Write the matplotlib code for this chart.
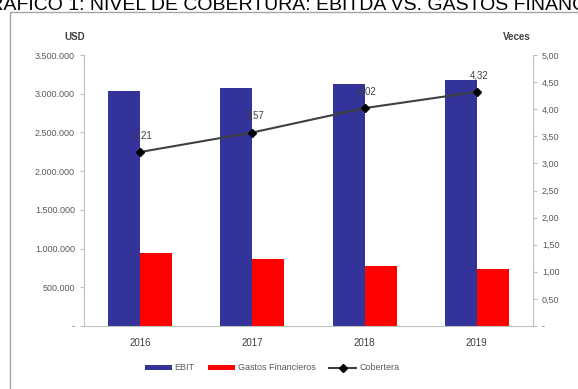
import matplotlib.pyplot as plt
import numpy as np
from matplotlib.ticker import FuncFormatter, MultipleLocator
from matplotlib.patches import Rectangle

plt.rcParams['font.family'] = ['Liberation Sans', 'DejaVu Sans']

years = ['2016', '2017', '2018', '2019']
ebit = [3030000, 3070000, 3130000, 3180000]
gastos = [945000, 860000, 778000, 735000]
cobertura = [3.21, 3.57, 4.02, 4.32]
cobertura_labels = ['3,21', '3,57', '4,02', '4,32']

blue = '#333399'
red = '#FF0000'
axis_gray = '#BFBFBF'
text_gray = '#595959'

fig = plt.figure(figsize=(5.78, 3.89), dpi=100)

# outer chart border
fig.patches.append(Rectangle((10 / 578, -0.05), 1.0, 1 - 12 / 389 + 0.05,
                             transform=fig.transFigure, fill=False,
                             edgecolor='#A6A6A6', linewidth=1.0))

# title is cut at the top / sides in the original screenshot
fig.text(-26 / 578, 1 - 10 / 389, 'GRÁFICO 1: NIVEL DE COBERTURA: EBITDA VS. GASTOS FINANCIEROS',
         fontsize=14, ha='left', va='baseline', color='black')

ax1 = fig.add_axes([84 / 578, 63 / 389, 449 / 578, 271 / 389])
x = np.arange(len(years))
w = 0.285
ax1.bar(x - w / 2, ebit, w, color=blue, label='EBIT')
ax1.bar(x + w / 2, gastos, w, color=red, label='Gastos Financieros')
ax1.set_xlim(-0.5, 3.5)
ax1.set_ylim(0, 3500000)
ax1.yaxis.set_major_locator(MultipleLocator(500000))


def fmt_usd(v, pos):
    if v == 0:
        return '-'
    return f'{int(v):,}'.replace(',', '.')


ax1.yaxis.set_major_formatter(FuncFormatter(fmt_usd))
ax1.set_xticks(x)
ax1.set_xticklabels(years)

ax2 = ax1.twinx()
ax2.plot(x, cobertura, color='#404040', linewidth=1.5, marker='D',
         markersize=4, markerfacecolor='black', markeredgecolor='black',
         label='Cobertera')
ax2.set_ylim(0, 5)
ax2.yaxis.set_major_locator(MultipleLocator(0.5))


def fmt_veces(v, pos):
    if v == 0:
        return '-'
    return f'{v:.2f}'.replace('.', ',')


ax2.yaxis.set_major_formatter(FuncFormatter(fmt_veces))
for xi, yi, lab in zip(x, cobertura, cobertura_labels):
    ax2.annotate(lab, (xi, yi), xytext=(2, 12), textcoords='offset points',
                 ha='center', va='center', fontsize=7, color='#404040')

for ax in (ax1, ax2):
    ax.spines['top'].set_visible(False)
    for s in ('left', 'right', 'bottom'):
        ax.spines[s].set_color(axis_gray)
        ax.spines[s].set_linewidth(0.8)
    ax.tick_params(axis='y', labelsize=6.5, labelcolor=text_gray,
                   color=axis_gray, length=3, width=0.8)
ax1.spines['right'].set_visible(False)
ax2.spines['left'].set_visible(False)
ax2.spines['bottom'].set_visible(False)
ax1.tick_params(axis='x', labelsize=7, labelcolor='#404040', length=0, pad=9)

fig.text(75 / 578, 1 - 37 / 389, 'USD', fontsize=7, fontweight='bold',
         ha='center', va='center', color='#404040')
fig.text(517 / 578, 1 - 37 / 389, 'Veces', fontsize=7, fontweight='bold',
         ha='center', va='center', color='#404040')

h1, l1 = ax1.get_legend_handles_labels()
h2, l2 = ax2.get_legend_handles_labels()
fig.legend(h1 + h2, l1 + l2, loc='center', bbox_to_anchor=(272 / 578, 1 - 368 / 389),
           ncol=3, frameon=False, fontsize=6.5, labelcolor=text_gray,
           handlelength=3.0, handleheight=0.5, columnspacing=1.5, handletextpad=0.3)

fig.savefig('out.png', dpi=100)
